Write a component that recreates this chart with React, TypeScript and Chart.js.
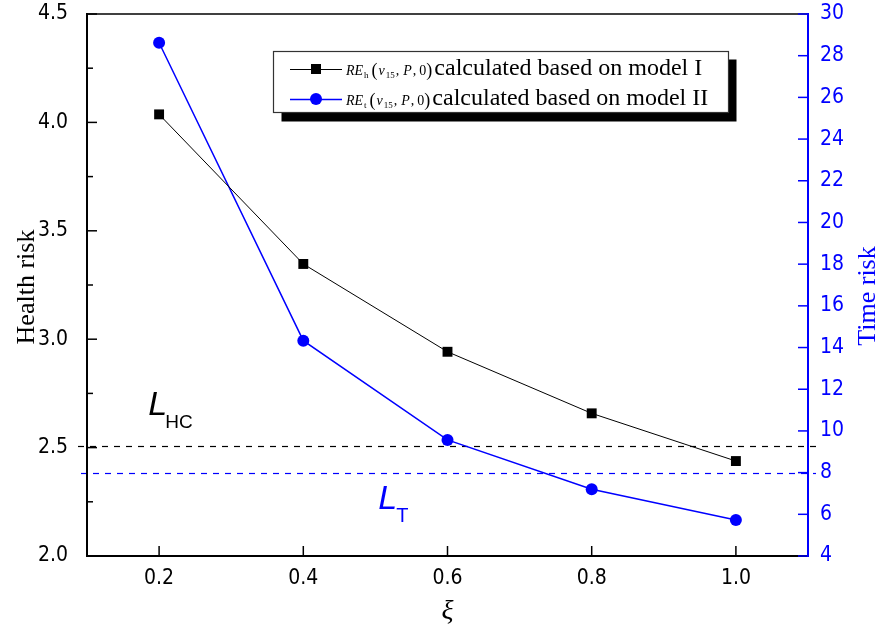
import React, { useEffect, useRef } from 'react';
import { Chart, registerables } from 'chart.js';

Chart.register(...registerables);

// ---- data ----
const xi = [0.2, 0.4, 0.6, 0.8, 1.0];
const healthRisk = [4.037, 3.347, 2.942, 2.658, 2.438];
const timeRisk = [28.62, 14.33, 9.57, 7.2, 5.73];

const xTicks = [0.2, 0.4, 0.6, 0.8, 1.0];
const leftTicks = [2.0, 2.5, 3.0, 3.5, 4.0, 4.5];
const leftMinorTicks = [2.25, 2.75, 3.25, 3.75, 4.25];
const rightTicks = [4, 6, 8, 10, 12, 14, 16, 18, 20, 22, 24, 26, 28, 30];

const L_HC = 2.506; // health-risk threshold (left axis)
const L_T = 7.98; // time-risk threshold (right axis)

const BLUE = '#0000ff';
const TICK_FONT = "'Liberation Sans Narrow', 'Arial Narrow', 'DejaVu Sans Condensed', 'Liberation Sans', sans-serif";
const SERIF = "'Liberation Serif', 'Times New Roman', serif";
const SANS = "'Liberation Sans', Arial, sans-serif";

type Seg = { t: string; f: string; dy?: number; gap?: number };

function drawSegs(ctx: CanvasRenderingContext2D, segs: Seg[], x: number, y: number, color: string) {
  let cx = x;
  ctx.fillStyle = color;
  ctx.textBaseline = 'alphabetic';
  ctx.textAlign = 'left';
  for (const s of segs) {
    ctx.font = s.f;
    cx += s.gap || 0;
    ctx.fillText(s.t, cx, y + (s.dy || 0));
    cx += ctx.measureText(s.t).width;
  }
  return cx;
}

const decoPlugin = {
  id: 'deco',
  beforeDatasetsDraw(chart: any) {
    const { ctx, chartArea: a, scales } = chart;
    ctx.save();
    ctx.setLineDash([6, 6]);
    ctx.lineWidth = 1.2;
    ctx.strokeStyle = '#000';
    const p1 = Math.round(scales.y.getPixelForValue(L_HC)) + 0.5;
    ctx.beginPath();
    ctx.moveTo(a.left - 9, p1);
    ctx.lineTo(a.right + 8, p1);
    ctx.stroke();
    ctx.strokeStyle = BLUE;
    const p2 = Math.round(scales.y1.getPixelForValue(L_T)) + 0.5;
    ctx.beginPath();
    ctx.moveTo(a.left - 6, p2);
    ctx.lineTo(a.right + 8, p2);
    ctx.stroke();
    ctx.restore();
  },
  afterDraw(chart: any) {
    const { ctx, chartArea: a, scales } = chart;
    const sx = scales.x, sy = scales.y, sy1 = scales.y1;
    ctx.save();
    ctx.setLineDash([]);

    // frame
    ctx.lineWidth = 1.5;
    ctx.strokeStyle = '#000';
    ctx.beginPath();
    ctx.moveTo(a.left, a.top);
    ctx.lineTo(a.right, a.top);
    ctx.stroke();
    ctx.lineWidth = 2;
    ctx.beginPath();
    ctx.moveTo(a.left, a.top - 1);
    ctx.lineTo(a.left, a.bottom);
    ctx.lineTo(a.right, a.bottom);
    ctx.stroke();
    ctx.strokeStyle = BLUE;
    ctx.beginPath();
    ctx.moveTo(a.right, a.top - 1);
    ctx.lineTo(a.right, a.bottom + 1);
    ctx.stroke();

    // ticks (inward)
    ctx.lineWidth = 1.5;
    ctx.strokeStyle = '#000';
    for (const v of leftTicks) {
      const p = sy.getPixelForValue(v);
      ctx.beginPath(); ctx.moveTo(a.left, p); ctx.lineTo(a.left + 10, p); ctx.stroke();
    }
    for (const v of leftMinorTicks) {
      const p = sy.getPixelForValue(v);
      ctx.beginPath(); ctx.moveTo(a.left, p); ctx.lineTo(a.left + 6, p); ctx.stroke();
    }
    for (const v of xTicks) {
      const p = sx.getPixelForValue(v);
      ctx.beginPath(); ctx.moveTo(p, a.bottom); ctx.lineTo(p, a.bottom - 10); ctx.stroke();
    }
    ctx.strokeStyle = BLUE;
    for (const v of rightTicks) {
      const p = sy1.getPixelForValue(v);
      ctx.beginPath(); ctx.moveTo(a.right, p); ctx.lineTo(a.right - 10, p); ctx.stroke();
    }

    // axis titles
    ctx.textAlign = 'center';
    ctx.textBaseline = 'middle';
    ctx.font = `26px ${SERIF}`;
    ctx.fillStyle = '#000';
    ctx.save();
    ctx.translate(27, (a.top + a.bottom) / 2 + 2);
    ctx.rotate(-Math.PI / 2);
    ctx.fillText('Health risk', 0, 0);
    ctx.restore();
    ctx.fillStyle = BLUE;
    ctx.save();
    ctx.translate(868, (a.top + a.bottom) / 2 + 11);
    ctx.rotate(-Math.PI / 2);
    ctx.fillText('Time risk', 0, 0);
    ctx.restore();
    ctx.fillStyle = '#000';
    ctx.font = `italic 28px ${SERIF}`;
    ctx.fillText('ξ', (a.left + a.right) / 2, 612);

    // threshold labels
    const lhx = sx.getPixelForValue(0.185);
    const lhy = sy.getPixelForValue(2.65);
    drawSegs(ctx, [
      { t: 'L', f: `italic 34px ${SANS}` },
      { t: 'HC', f: `19px ${SANS}`, dy: 13, gap: -2 },
    ], lhx, lhy, '#000');
    const ltx = sx.getPixelForValue(0.504);
    const lty = sy1.getPixelForValue(6.26);
    drawSegs(ctx, [
      { t: 'L', f: `italic 34px ${SANS}` },
      { t: 'T', f: `20px ${SANS}`, dy: 13, gap: -1 },
    ], ltx, lty, BLUE);

    // legend
    const bx = 273.5, by = 51.5, bw = 455, bh = 61;
    ctx.fillStyle = '#000';
    ctx.fillRect(bx + 8, by + 8, bw, bh + 1);
    ctx.fillStyle = '#fff';
    ctx.fillRect(bx, by, bw, bh);
    ctx.strokeStyle = '#333';
    ctx.lineWidth = 1.2;
    ctx.strokeRect(bx, by, bw, bh);

    const rows = [
      { y: 69, color: '#000', sub: 'h', tail: 'calculated based on model I', marker: 'rect' },
      { y: 99, color: BLUE, sub: 't', tail: 'calculated based on model II', marker: 'circle' },
    ];
    for (const r of rows) {
      ctx.strokeStyle = r.color;
      ctx.lineWidth = r.color === '#000' ? 1 : 1.5;
      ctx.beginPath();
      ctx.moveTo(290, r.y + 0.5);
      ctx.lineTo(342, r.y + 0.5);
      ctx.stroke();
      ctx.fillStyle = r.color;
      if (r.marker === 'rect') {
        ctx.fillRect(311, r.y - 5, 10, 10);
      } else {
        ctx.beginPath();
        ctx.arc(316, r.y, 6, 0, Math.PI * 2);
        ctx.fill();
      }
      const baseY = r.y + 6;
      const end = drawSegs(ctx, [
        { t: 'RE', f: `italic 14px ${SERIF}` },
        { t: r.sub, f: `9px ${SERIF}`, dy: 3, gap: 1 },
        { t: '(', f: `18px ${SERIF}`, dy: 1, gap: 3 },
        { t: 'v', f: `italic 14px ${SERIF}`, gap: 1 },
        { t: '15', f: `9px ${SERIF}`, dy: 3, gap: 1 },
        { t: ',', f: `14px ${SERIF}`, gap: 1 },
        { t: 'P', f: `italic 14px ${SERIF}`, gap: 4 },
        { t: ',', f: `14px ${SERIF}`, gap: 1 },
        { t: '0', f: `14px ${SERIF}`, gap: 3 },
        { t: ')', f: `18px ${SERIF}`, dy: 1 },
      ], 346, baseY, '#000');
      drawSegs(ctx, [{ t: r.tail, f: `24px ${SERIF}` }], end + 2, baseY, '#000');
    }
    ctx.restore();
  },
};

export default function App() {
  const ref = useRef<HTMLCanvasElement | null>(null);
  useEffect(() => {
    if (!ref.current) return;
    const chart = new Chart(ref.current, {
      type: 'line',
      data: {
        datasets: [
          {
            label: 'RE_h(v15,P,0) calculated based on model I',
            data: xi.map((x, i) => ({ x, y: healthRisk[i] })),
            borderColor: '#000',
            backgroundColor: '#000',
            borderWidth: 1,
            pointStyle: 'rect',
            pointRadius: 7,
            pointBorderWidth: 0,
            yAxisID: 'y',
            clip: false,
          },
          {
            label: 'RE_t(v15,P,0) calculated based on model II',
            data: xi.map((x, i) => ({ x, y: timeRisk[i] })),
            borderColor: BLUE,
            backgroundColor: BLUE,
            borderWidth: 1.5,
            pointStyle: 'circle',
            pointRadius: 6,
            pointBorderWidth: 0,
            yAxisID: 'y1',
            clip: false,
          },
        ],
      },
      options: {
        animation: false,
        responsive: false,
        devicePixelRatio: 1,
        layout: { padding: { top: 14, left: 0, right: 0, bottom: 0 } },
        plugins: { legend: { display: false }, tooltip: { enabled: false } },
        scales: {
          x: {
            type: 'linear',
            min: 0.1,
            max: 1.1,
            grid: { display: false, drawTicks: false, tickLength: 0 },
            border: { display: false },
            afterBuildTicks: (s: any) => { s.ticks = xTicks.map((v) => ({ value: v })); },
            afterFit: (s: any) => { s.height = 77; s.paddingLeft = 0; s.paddingRight = 0; },
            ticks: {
              padding: 10,
              color: '#000',
              font: { family: TICK_FONT, size: 21 },
              callback: (v: any) => Number(v).toFixed(1),
              maxRotation: 0,
            },
          },
          y: {
            type: 'linear',
            position: 'left',
            min: 2,
            max: 4.5,
            grid: { display: false, drawTicks: false, tickLength: 0 },
            border: { display: false },
            afterBuildTicks: (s: any) => { s.ticks = leftTicks.map((v) => ({ value: v })); },
            afterFit: (s: any) => { s.width = 87; s.paddingTop = 0; s.paddingBottom = 0; },
            ticks: {
              padding: 19,
              color: '#000',
              font: { family: TICK_FONT, size: 21 },
              callback: (v: any) => Number(v).toFixed(1),
            },
          },
          y1: {
            type: 'linear',
            position: 'right',
            min: 4,
            max: 30,
            grid: { display: false, drawTicks: false, tickLength: 0 },
            border: { display: false },
            afterBuildTicks: (s: any) => { s.ticks = rightTicks.map((v) => ({ value: v })); },
            afterFit: (s: any) => { s.width = 74; s.paddingTop = 0; s.paddingBottom = 0; },
            ticks: {
              padding: 12,
              color: BLUE,
              font: { family: TICK_FONT, size: 21 },
              callback: (v: any) => String(v),
            },
          },
        },
      },
      plugins: [decoPlugin],
    });
    return () => chart.destroy();
  }, []);
  return (
    <div style={{ position: 'absolute', left: 0, top: 0, width: 882, height: 633, background: '#fff' }}>
      <canvas ref={ref} width={882} height={633} style={{ display: 'block' }} />
    </div>
  );
}
